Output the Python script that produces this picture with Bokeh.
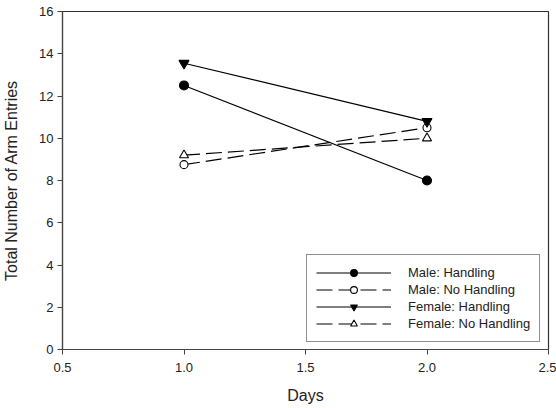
from bokeh.plotting import figure
from bokeh.models import Legend, LegendItem, FixedTicker, NumeralTickFormatter, Range1d
from bokeh.embed import file_html
from bokeh.resources import INLINE

days = [1.0, 2.0]
male_handling = [12.5, 8.0]
male_no_handling = [8.75, 10.5]
female_handling = [13.55, 10.8]
female_no_handling = [9.2, 10.0]
x_ticks = [0.5, 1.0, 1.5, 2.0, 2.5]
y_ticks = [0, 2, 4, 6, 8, 10, 12, 14, 16]

FONT = "Liberation Sans"
TXT = "#222222"

p = figure(width=556, height=408, x_range=Range1d(0.5, 2.5), y_range=Range1d(0, 16),
           output_backend="svg", toolbar_location=None,
           min_border_left=61, min_border_top=11, min_border_right=8, min_border_bottom=59)
p.grid.visible = False
p.outline_line_color = "#333333"
p.outline_line_width = 1.2
p.background_fill_color = "white"
p.border_fill_color = "white"

for ax in (p.xaxis[0], p.yaxis[0]):
    ax.axis_line_color = "#444444"
    ax.axis_line_width = 1.2
    ax.major_tick_line_color = "#444444"
    ax.major_tick_in = 0
    ax.major_tick_out = 5
    ax.minor_tick_line_color = None
    ax.major_label_text_font = FONT
    ax.major_label_text_font_size = "13px"
    ax.major_label_text_color = TXT
    ax.axis_label_text_font = FONT
    ax.axis_label_text_font_size = "16px"
    ax.axis_label_text_font_style = "normal"
    ax.axis_label_text_color = TXT

p.xaxis.ticker = FixedTicker(ticks=x_ticks)
p.xaxis.formatter = NumeralTickFormatter(format="0.0")
p.yaxis.ticker = FixedTicker(ticks=y_ticks)
p.xaxis.axis_label = "Days"
p.yaxis.axis_label = "Total Number of Arm Entries"
p.xaxis.major_label_standoff = 8
p.xaxis.axis_label_standoff = 12
p.yaxis.major_label_standoff = 4
p.yaxis.axis_label_standoff = 16

DASH = "16 6"
series = [
    ("Male: Handling", male_handling, "solid", "circle", "black", 9),
    ("Male: No Handling", male_no_handling, DASH, "circle", "white", 8),
    ("Female: Handling", female_handling, "solid", "inverted_triangle", "black", 10),
    ("Female: No Handling", female_no_handling, DASH, "triangle", "white", 9),
]

items = []
for label, vals, dash, marker, fill, size in series:
    ln = p.line(days, vals, line_color="black", line_width=1.2, line_dash=dash)
    sc = p.scatter(days, vals, marker=marker, size=size, fill_color=fill,
                   line_color="black", line_width=1.1)
    items.append(LegendItem(label=label, renderers=[ln, sc]))

legend = Legend(items=items, location=(244, 7))
legend.border_line_color = "#222222"
legend.border_line_width = 1.2
legend.background_fill_color = "white"
legend.background_fill_alpha = 1.0
legend.padding = 9
legend.margin = 0
legend.spacing = 0
legend.glyph_width = 75
legend.glyph_height = 17
legend.label_height = 17
legend.label_standoff = 17
legend.label_text_font = FONT
legend.label_text_font_size = "13px"
legend.label_text_color = TXT
p.add_layout(legend, "center")

open("out.html", "w").write(file_html(p, INLINE))
